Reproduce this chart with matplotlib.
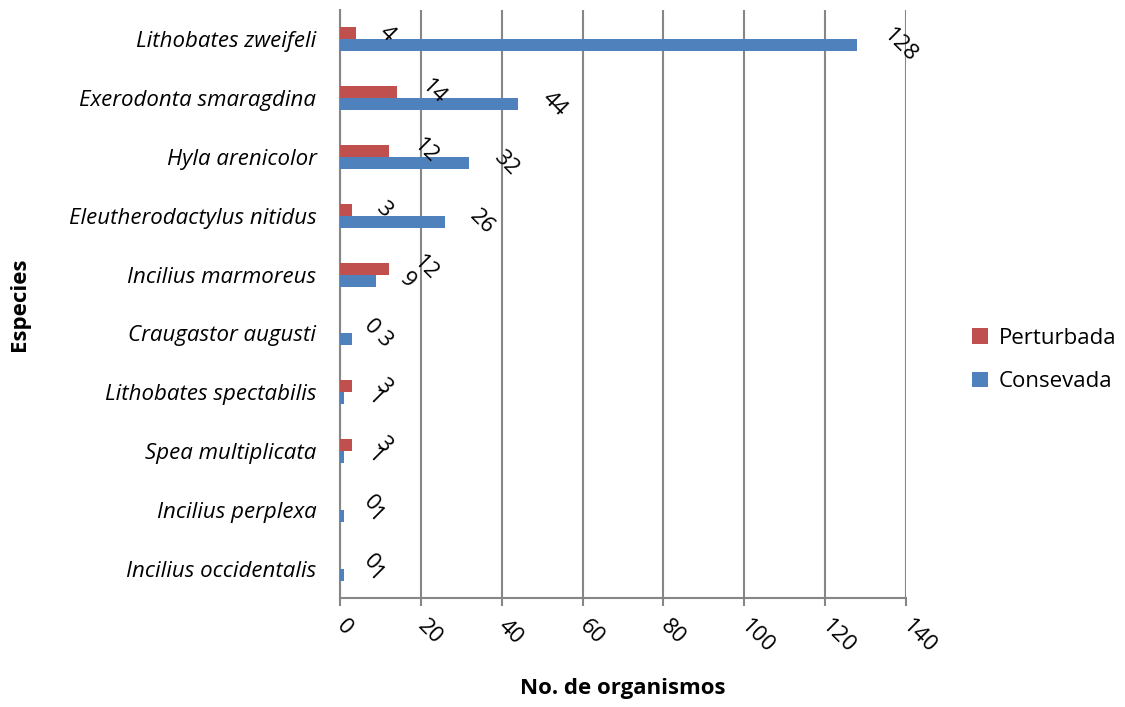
import numpy as np
import matplotlib
matplotlib.use("Agg")
from matplotlib import pyplot as plt

especies = ["Lithobates zweifeli", "Exerodonta smaragdina", "Hyla arenicolor",
            "Eleutherodactylus nitidus", "Incilius marmoreus", "Craugastor augusti",
            "Lithobates spectabilis", "Spea multiplicata", "Incilius perplexa",
            "Incilius occidentalis"]
perturbada = [4, 14, 12, 3, 12, 0, 3, 3, 0, 0]
consevada = [128, 44, 32, 26, 9, 3, 1, 1, 1, 1]
xticks = [0, 20, 40, 60, 80, 100, 120, 140]

plt.rcParams['font.family'] = ['Open Sans', 'DejaVu Sans']

red = "#C0504D"
blue = "#4F81BD"
grid = "#868686"
fs = 16

fig = plt.figure(figsize=(11.25, 7.07), dpi=100)
ax = fig.add_axes([340/1125, 109/707, 566/1125, 588/707])

y = np.arange(len(especies))
h = 0.204
ax.barh(y - h/2, perturbada, height=h, color=red, label="Perturbada", zorder=3)
ax.barh(y + h/2, consevada, height=h, color=blue, label="Consevada", zorder=3)

def offs(v):
    return (25 + 6*len(str(v))) * 0.72

for i in range(len(especies)):
    ax.annotate(str(perturbada[i]), (perturbada[i], y[i] - h/2), xytext=(offs(perturbada[i]), 0),
                textcoords="offset points", ha="center", va="center", rotation=-45,
                fontsize=fs, zorder=4)
    ax.annotate(str(consevada[i]), (consevada[i], y[i] + h/2), xytext=(offs(consevada[i]), 0),
                textcoords="offset points", ha="center", va="center", rotation=-45,
                fontsize=fs, zorder=4)

ax.set_xlim(0, 140)
ax.set_ylim(len(especies) - 0.5, -0.5)
ax.set_xticks(xticks)
ax.set_xticklabels([str(t) for t in xticks], rotation=-45, ha="left", va="center",
                   rotation_mode="anchor", fontsize=fs)
ax.set_yticks(y)
ax.set_yticklabels(especies, fontsize=fs, style="italic")
ax.tick_params(axis="y", length=0, pad=17)
ax.tick_params(axis="x", length=6, width=1.5, color=grid, pad=12)

ax.grid(axis="x", color=grid, linewidth=1.5, zorder=0)
for s in ["top", "right"]:
    ax.spines[s].set_visible(False)
for s in ["left", "bottom"]:
    ax.spines[s].set_color(grid)
    ax.spines[s].set_linewidth(1.5)

ax.set_xlabel("No. de organismos", fontsize=fs, fontweight="bold")
ax.set_ylabel("Especies", fontsize=fs, fontweight="bold")
ax.yaxis.set_label_coords(-310/566, 0.5)
ax.xaxis.set_label_coords(0.5, -80/588)

fig.legend(loc="center left", bbox_to_anchor=(972/1125, 1 - 360/707), frameon=False,
           fontsize=fs, handlelength=0.7, handleheight=0.7, handletextpad=0.5,
           labelspacing=1.0, borderpad=0, borderaxespad=0)

fig.savefig("out.png", dpi=100)
